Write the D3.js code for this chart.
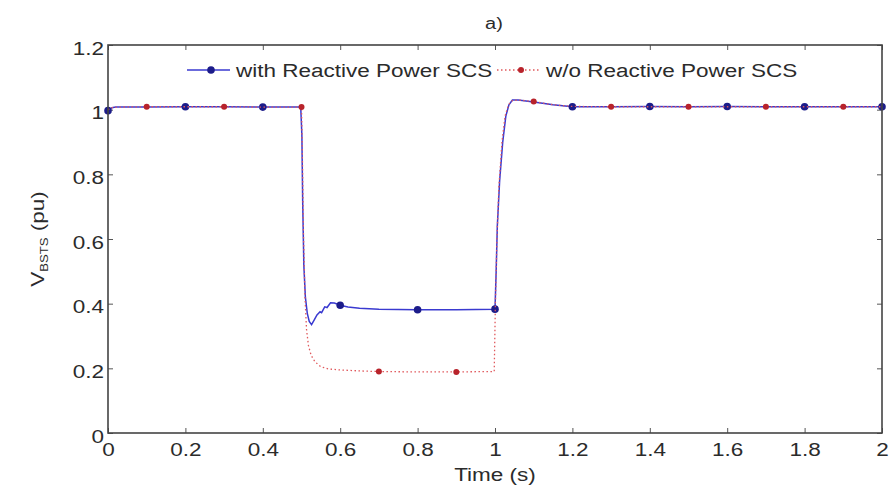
<!DOCTYPE html>
<html>
<head>
<meta charset="utf-8">
<script src="https://cdn.jsdelivr.net/npm/d3@7"></script>
<style>
  body { margin: 0; background: #fff; }
  text { font-family: "Liberation Sans", Arial, sans-serif; fill: #2b2b2b; }
</style>
</head>
<body>
<div id="chart"></div>
<script>
// series
let time_with = [0, 0.01, 0.02, 0.1, 0.2, 0.3, 0.4, 0.498, 0.501, 0.503, 0.506, 0.51, 0.515, 0.52, 0.526, 0.533, 0.54, 0.548, 0.552, 0.56, 0.566, 0.575, 0.585, 0.6, 0.62, 0.65, 0.7, 0.8, 0.9, 1.0, 1.003, 1.006, 1.012, 1.02, 1.028, 1.036, 1.045, 1.06, 1.08, 1.1, 1.15, 1.2, 1.3, 1.4, 1.5, 1.6, 1.7, 1.8, 1.9, 2.0];
let v_with = [0.997, 1.006, 1.008, 1.008, 1.009, 1.009, 1.008, 1.008, 0.92, 0.72, 0.52, 0.42, 0.37, 0.345, 0.335, 0.35, 0.365, 0.375, 0.372, 0.39, 0.388, 0.403, 0.402, 0.395, 0.39, 0.386, 0.383, 0.381, 0.381, 0.383, 0.5, 0.64, 0.78, 0.9, 0.98, 1.015, 1.03, 1.03, 1.027, 1.024, 1.015, 1.009, 1.009, 1.01, 1.009, 1.01, 1.009, 1.009, 1.009, 1.009];

let time_wo = [0, 0.01, 0.02, 0.1, 0.2, 0.3, 0.4, 0.5, 0.502, 0.505, 0.509, 0.513, 0.518, 0.525, 0.535, 0.55, 0.57, 0.6, 0.65, 0.7, 0.8, 0.9, 0.998, 1.001, 1.005, 1.01, 1.018, 1.026, 1.035, 1.045, 1.06, 1.1, 1.15, 1.2, 1.3, 1.4, 1.5, 1.6, 1.7, 1.8, 1.9, 2.0];
let v_wo = [1.0, 1.006, 1.008, 1.009, 1.009, 1.009, 1.008, 1.008, 0.88, 0.62, 0.42, 0.32, 0.27, 0.24, 0.22, 0.205, 0.198, 0.195, 0.192, 0.19, 0.189, 0.189, 0.19, 0.4, 0.6, 0.76, 0.9, 0.98, 1.015, 1.028, 1.03, 1.025, 1.015, 1.01, 1.009, 1.009, 1.009, 1.009, 1.009, 1.009, 1.009, 1.009];

let markers_with = [0, 0.2, 0.4, 0.6, 0.8, 1.0, 1.2, 1.4, 1.6, 1.8, 2.0];
let markers_wo = [0.1, 0.3, 0.5, 0.7, 0.9, 1.1, 1.3, 1.5, 1.7, 1.9];

let x_ticks = [0, 0.2, 0.4, 0.6, 0.8, 1, 1.2, 1.4, 1.6, 1.8, 2];
let y_ticks = [0, 0.2, 0.4, 0.6, 0.8, 1, 1.2];
let legend_labels = ["with Reactive Power SCS", "w/o Reactive Power SCS"];
let chart_title = "a)";

let config_size = {
    svg_width: 892,
    svg_height: 490,
    plot_margin: { left: 108, right: 10, top: 45, bottom: 57 },
};
let stretch = 1.25;  // glyphs in the picture are widened
let blue_line = "#3a3ad0", blue_mark = "#1c1c8a";
let red_line = "#e0585c", red_mark = "#b8232b";

let svg = d3.select("#chart").append("svg")
    .attr("width", config_size.svg_width).attr("height", config_size.svg_height);
let plot_g = svg.append("g")
    .attr("transform", `translate(${config_size.plot_margin.left}, ${config_size.plot_margin.top})`);
let plot_width = config_size.svg_width - config_size.plot_margin.left - config_size.plot_margin.right;
let plot_height = config_size.svg_height - config_size.plot_margin.top - config_size.plot_margin.bottom;

let x = d3.scaleLinear().domain([0, 2]).range([0, plot_width]);
let y = d3.scaleLinear().domain([0, 1.2]).range([plot_height, 0]);
let fmt = d => String(+d.toFixed(1));

// axes with inward ticks, MATLAB box style
let x_axis = plot_g.append("g").attr("transform", `translate(0,${plot_height})`)
    .call(d3.axisBottom(x).tickValues(x_ticks).tickFormat(fmt).tickSize(-5).tickSizeOuter(0).tickPadding(0));
let y_axis = plot_g.append("g")
    .call(d3.axisLeft(y).tickValues(y_ticks).tickFormat(fmt).tickSize(-5).tickSizeOuter(0).tickPadding(0));
plot_g.append("g")
    .call(d3.axisTop(x).tickValues(x_ticks).tickFormat("").tickSize(-5).tickSizeOuter(0));
plot_g.append("g").attr("transform", `translate(${plot_width},0)`)
    .call(d3.axisRight(y).tickValues(y_ticks).tickFormat("").tickSize(-5).tickSizeOuter(0));
plot_g.selectAll(".domain").remove();
plot_g.selectAll(".tick line").attr("stroke", "#555").attr("stroke-width", 1);

x_axis.selectAll("text")
    .attr("y", 0).attr("dy", 0)
    .attr("transform", `translate(0,23) scale(${stretch},1)`)
    .style("font-size", "18px").attr("fill", "#2b2b2b");
y_axis.selectAll("text")
    .attr("x", 0).attr("dy", 0)
    .attr("transform", `translate(-4,9) scale(${stretch},1)`)
    .style("font-size", "18px").attr("fill", "#2b2b2b");

// series
let rows_with = time_with.map((t, i) => ({t: t, v: v_with[i]}));
let rows_wo = time_wo.map((t, i) => ({t: t, v: v_wo[i]}));
let line = d3.line().x(d => x(d.t)).y(d => y(d.v));

plot_g.append("path").datum(rows_with)
    .attr("fill", "none").attr("stroke", blue_line).attr("stroke-width", 1.5)
    .attr("d", line);
plot_g.append("g").selectAll("circle")
    .data(rows_with.filter(d => markers_with.includes(d.t)))
    .join("circle")
    .attr("cx", d => x(d.t)).attr("cy", d => y(d.v)).attr("r", 3.8)
    .attr("fill", blue_mark);

plot_g.append("path").datum(rows_wo)
    .attr("fill", "none").attr("stroke", red_line).attr("stroke-width", 1.3)
    .attr("stroke-dasharray", "1.5,2.5")
    .attr("d", line);
plot_g.append("g").selectAll("circle")
    .data(rows_wo.filter(d => markers_wo.includes(d.t)))
    .join("circle")
    .attr("cx", d => x(d.t)).attr("cy", d => y(d.v)).attr("r", 3)
    .attr("fill", red_mark);

// box
plot_g.append("rect").attr("width", plot_width).attr("height", plot_height)
    .attr("fill", "none").attr("stroke", "#444").attr("stroke-width", 1.6);

// legend
let legend_g = plot_g.append("g").attr("transform", `translate(0,${y(1.2) + 25})`);
let legend_items = [
    {label: legend_labels[0], x0: 79, stroke: blue_line, dash: null, mark: blue_mark, r: 3.8},
    {label: legend_labels[1], x0: 389, stroke: red_line, dash: "1.5,2.5", mark: red_mark, r: 3},
];
legend_items.forEach(item => {
    let g = legend_g.append("g").attr("transform", `translate(${item.x0},0)`);
    g.append("line").attr("x1", 0).attr("x2", 43)
        .attr("stroke", item.stroke).attr("stroke-width", 1.5)
        .attr("stroke-dasharray", item.dash);
    g.append("circle").attr("cx", 24).attr("r", item.r).attr("fill", item.mark);
    g.append("text").text(item.label)
        .attr("transform", `translate(49,7) scale(${stretch},1)`)
        .style("font-size", "18px");
});

// title and axis labels
svg.append("text").text(chart_title)
    .attr("transform", `translate(494,29) scale(${stretch},1)`)
    .attr("text-anchor", "middle").style("font-size", "16px");

svg.append("text")
    .attr("transform", `translate(${config_size.plot_margin.left + x(1)},${config_size.plot_margin.top + plot_height + 48}) scale(${stretch},1)`)
    .attr("text-anchor", "middle").style("font-size", "18px")
    .text("Time (s)");

let y_label = svg.append("text")
    .attr("transform", `translate(44,${config_size.plot_margin.top + y(0.6)}) rotate(-90) scale(${stretch},1)`)
    .attr("text-anchor", "middle").style("font-size", "18px");
y_label.append("tspan").text("V");
y_label.append("tspan").text("BSTS").attr("dy", 4).style("font-size", "10.5px");
y_label.append("tspan").text(" (pu)").attr("dy", -4);
</script>
</body>
</html>
